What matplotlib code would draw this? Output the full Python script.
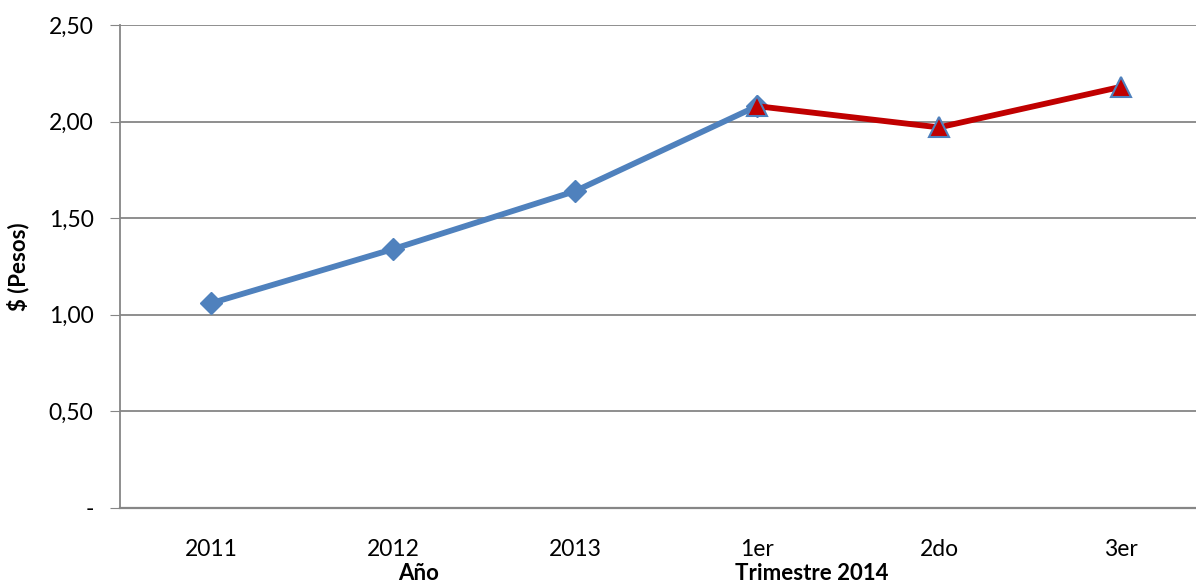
import numpy as np
import matplotlib
matplotlib.use("Agg")
import matplotlib.pyplot as plt
from matplotlib import transforms

categories = ["2011", "2012", "2013", "1er", "2do", "3er"]
anual = [1.06, 1.34, 1.64, 2.08, np.nan, np.nan]
trimestral = [np.nan, np.nan, np.nan, 2.08, 1.97, 2.18]
yticks = [0, 0.5, 1.0, 1.5, 2.0, 2.5]
ytick_labels = ["-", "0,50", "1,00", "1,50", "2,00", "2,50"]

plt.rcParams["font.family"] = ["Lato", "DejaVu Sans"]

fig = plt.figure(figsize=(11.96, 5.86), dpi=100)
# plot area runs past the right edge of the picture, as in the original
ax = fig.add_axes([120 / 1196, 1 - 508 / 586, 1092 / 1196, 483 / 586])

x = np.arange(len(categories))
ax.plot(x, anual, color="#4F81BD", lw=4.2, marker="D", ms=11.5,
        mfc="#4F81BD", mec="#4F81BD", zorder=3)
ax.plot(x, trimestral, color="#C00000", lw=4.2, marker="^", ms=14,
        mfc="#C00000", mec="#4F81BD", mew=1.5, zorder=4)

ax.set_xlim(-0.5, len(categories) - 0.5)
ax.set_ylim(0, 2.5)
ax.set_yticks(yticks)
ax.set_yticklabels(ytick_labels, fontsize=16.5)
ax.set_xticks(x)
ax.set_xticklabels(categories, fontsize=16.5)
ax.tick_params(axis="x", length=0, pad=22)
ax.tick_params(axis="y", length=7, color="#868686", pad=12)

ax.grid(axis="y", color="#868686", lw=1.3)
ax.set_axisbelow(True)
for s in ["top", "right"]:
    ax.spines[s].set_visible(False)
ax.spines["left"].set_color("#868686")
ax.spines["bottom"].set_color("#868686")
ax.spines["left"].set_linewidth(1.3)
ax.spines["bottom"].set_linewidth(1.6)

ax.set_ylabel("$ (Pesos)", fontsize=16, fontweight="bold", labelpad=14)

trans = transforms.blended_transform_factory(ax.transData, ax.transAxes)
ax.text(1.14, -0.135, "Año", transform=trans, ha="center", va="center",
        fontsize=16, fontweight="bold")
ax.text(3.30, -0.135, "Trimestre 2014", transform=trans, ha="center",
        va="center", fontsize=16, fontweight="bold")

fig.savefig("out.png", dpi=100)
